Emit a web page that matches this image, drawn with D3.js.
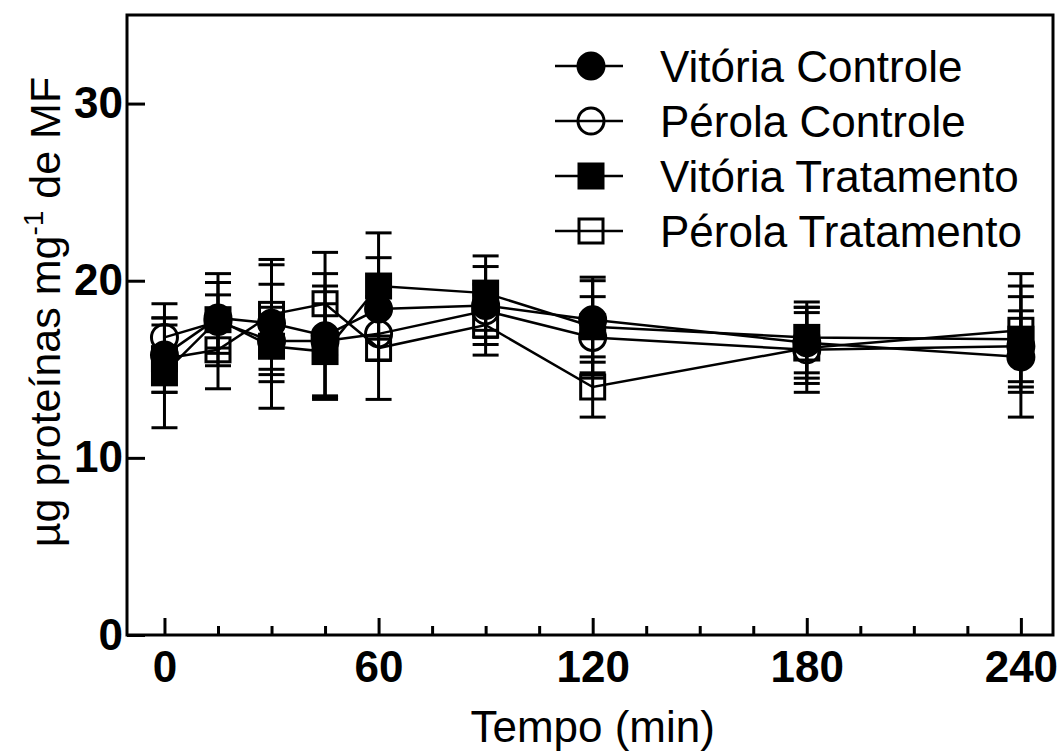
<!DOCTYPE html>
<html>
<head>
<meta charset="utf-8">
<script src="https://cdn.jsdelivr.net/npm/d3@7"></script>
<style>
  body { margin: 0; background: #fff; }
  svg { display: block; }
  text { font-family: Arial, "Liberation Sans", sans-serif; }
</style>
</head>
<body>
<div id="chart"></div>
<script>
// time points (min)
const times = [0, 15, 30, 45, 60, 90, 120, 180, 240];

// means per series
const vitoriaControle = [15.8, 17.9, 17.6, 16.9, 18.4, 18.6, 17.8, 16.5, 15.7];
const perolaControle = [16.8, 17.7, 16.6, 16.6, 17.0, 18.3, 16.8, 16.1, 16.3];
const vitoriaTratamento = [14.8, 17.8, 16.3, 16.0, 19.7, 19.3, 17.4, 16.8, 16.7];
const perolaTratamento = [15.6, 16.1, 18.1, 18.7, 16.2, 17.5, 14.0, 16.2, 17.2];

// error bar half-lengths
const vitoriaControleErr = [2.1, 2.0, 3.3, 3.5, 2.9, 2.2, 2.4, 2.0, 3.4];
const perolaControleErr = [1.9, 1.5, 1.9, 3.1, 1.5, 1.5, 2.3, 2.4, 2.0];
const vitoriaTratamentoErr = [3.1, 2.6, 3.5, 2.7, 3.0, 2.1, 2.6, 2.0, 3.0];
const perolaTratamentoErr = [1.9, 2.2, 3.1, 2.9, 2.9, 1.7, 1.7, 2.0, 3.2];

const seriesNames = ['Vitória Controle', 'Pérola Controle', 'Vitória Tratamento', 'Pérola Tratamento'];
const yTicks = [0, 10, 20, 30];
const xTicks = [0, 60, 120, 180, 240];
const xMinorTicks = [15, 30, 45, 75, 90, 105, 135, 150, 165, 195, 210, 225];

const series = [
    { name: seriesNames[0], values: vitoriaControle, err: vitoriaControleErr, shape: 'circle', filled: true },
    { name: seriesNames[1], values: perolaControle, err: perolaControleErr, shape: 'circle', filled: false },
    { name: seriesNames[2], values: vitoriaTratamento, err: vitoriaTratamentoErr, shape: 'square', filled: true },
    { name: seriesNames[3], values: perolaTratamento, err: perolaTratamentoErr, shape: 'square', filled: false }
];

const width = 1061, height = 752;
const plot = { left: 127, right: 1053, top: 15, bottom: 635 };

const svg = d3.select('#chart').append('svg')
    .attr('width', width)
    .attr('height', height);

const x = d3.scaleLinear().domain([-10.5, 249]).range([plot.left, plot.right]);
const y = d3.scaleLinear().domain([0, 35]).range([plot.bottom, plot.top]);

// axes (ticks point inward)
const xAxis = svg.append('g')
    .attr('transform', `translate(0,${plot.bottom})`)
    .call(d3.axisBottom(x).tickValues(xTicks).tickSize(-17).tickSizeOuter(0).tickPadding(16));
xAxis.selectAll('text')
    .attr('font-size', 44).attr('font-weight', 'bold').attr('font-family', 'Arial, "Liberation Sans", sans-serif');

const xMinor = svg.append('g')
    .attr('transform', `translate(0,${plot.bottom})`)
    .call(d3.axisBottom(x).tickValues(xMinorTicks).tickSize(-9).tickSizeOuter(0).tickFormat(''));

const yAxis = svg.append('g')
    .attr('transform', `translate(${plot.left},0)`)
    .call(d3.axisLeft(y).tickValues(yTicks).tickSize(-18).tickSizeOuter(0).tickPadding(4));
yAxis.selectAll('text')
    .attr('font-size', 44).attr('font-weight', 'bold').attr('font-family', 'Arial, "Liberation Sans", sans-serif');

[xAxis, xMinor, yAxis].forEach(g => {
    g.select('.domain').remove();
    g.selectAll('line').attr('stroke', '#000').attr('stroke-width', 3);
    g.selectAll('text').attr('fill', '#000');
});

// frame
svg.append('rect')
    .attr('x', plot.left).attr('y', plot.top)
    .attr('width', plot.right - plot.left).attr('height', plot.bottom - plot.top)
    .attr('fill', 'none').attr('stroke', '#000').attr('stroke-width', 3);

// axis titles
svg.append('text')
    .attr('x', (x(0) + x(240)) / 2).attr('y', 742)
    .attr('text-anchor', 'middle')
    .attr('font-size', 44)
    .text('Tempo (min)');

const yTitle = svg.append('text')
    .attr('transform', `translate(60,312) rotate(-90)`)
    .attr('text-anchor', 'middle')
    .attr('font-size', 43);
yTitle.append('tspan').text('µg proteínas mg');
yTitle.append('tspan').attr('font-size', 28).attr('dy', -17).text('-1');
yTitle.append('tspan').attr('dy', 17).text(' de MF');

const capW = 26, circR = 13, sqS = 24;

function drawMarker(g, shape, filled, cx, cy) {
    if (shape === 'circle') {
        g.append('circle')
            .attr('cx', cx).attr('cy', cy).attr('r', circR)
            .attr('fill', filled ? '#000' : 'none')
            .attr('stroke', '#000').attr('stroke-width', 3);
    } else {
        g.append('rect')
            .attr('x', cx - sqS / 2).attr('y', cy - sqS / 2)
            .attr('width', sqS).attr('height', sqS)
            .attr('fill', filled ? '#000' : 'none')
            .attr('stroke', '#000').attr('stroke-width', 3);
    }
}

const line = d3.line()
    .x((d, i) => x(times[i]))
    .y(d => y(d));

series.forEach(s => {
    const g = svg.append('g');

    // error bars
    s.values.forEach((v, i) => {
        const cx = x(times[i]);
        const lo = y(v - s.err[i]), hi = y(v + s.err[i]);
        g.append('line').attr('x1', cx).attr('x2', cx).attr('y1', lo).attr('y2', hi)
            .attr('stroke', '#000').attr('stroke-width', 3);
        [lo, hi].forEach(yy => {
            g.append('line').attr('x1', cx - capW / 2).attr('x2', cx + capW / 2)
                .attr('y1', yy).attr('y2', yy)
                .attr('stroke', '#000').attr('stroke-width', 3);
        });
    });

    g.append('path')
        .datum(s.values)
        .attr('fill', 'none')
        .attr('stroke', '#000')
        .attr('stroke-width', 2.5)
        .attr('d', line);

    s.values.forEach((v, i) => drawMarker(g, s.shape, s.filled, x(times[i]), y(v)));
});

// legend
const legend = svg.append('g').attr('transform', 'translate(555,66)');
series.forEach((s, i) => {
    const row = legend.append('g').attr('transform', `translate(0,${i * 55})`);
    row.append('line').attr('x1', 0).attr('x2', 68).attr('y1', 0).attr('y2', 0)
        .attr('stroke', '#000').attr('stroke-width', 2.5);
    drawMarker(row, s.shape, s.filled, 36, 0);
    row.append('text')
        .attr('x', 105).attr('y', 0).attr('dy', '0.36em')
        .attr('font-size', 44)
        .text(s.name);
});
</script>
</body>
</html>
